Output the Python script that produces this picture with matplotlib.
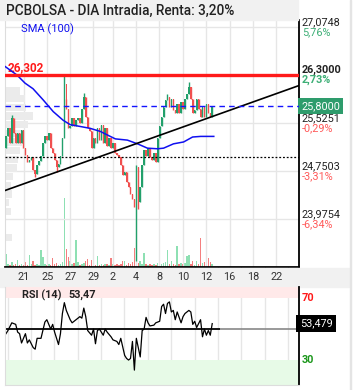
import numpy as np
import matplotlib.pyplot as plt
from matplotlib.patches import Rectangle

plt.rcParams['font.family'] = ['Roboto', 'DejaVu Sans']

title = 'PCBOLSA - DIA Intradia, Renta: 3,20%'

# intraday bars (closes); each bar opens at the previous close
first_open = 25.12
closes = [25.31, 25.44, 25.20, 25.60, 25.36, 25.20, 25.36, 25.20, 25.41, 25.12,
          25.01, 24.89, 24.93, 24.97, 24.77, 24.71, 24.84, 24.92, 25.00, 25.20,
          25.31, 25.25, 25.36, 25.12, 25.04, 24.93, 24.81, 24.87, 25.00, 25.28,
          26.16, 25.76, 25.44, 25.47, 25.60, 25.47, 25.57, 25.60, 25.52, 25.76,
          25.95, 25.63, 25.44, 25.39, 25.12, 25.28, 25.20, 25.44, 25.25, 25.49,
          25.20, 25.44, 25.16, 25.28, 25.12, 25.20, 25.04, 25.01, 24.97, 24.85,
          24.69, 24.74, 24.57, 24.49, 24.38, 24.30, 24.17, 24.81, 24.25, 24.49,
          24.84, 25.09, 25.00, 25.12, 24.97, 24.93, 25.04, 24.89, 25.28, 25.47,
          25.63, 25.79, 25.89, 25.95, 25.79, 25.92, 25.73, 25.68, 25.84, 25.68,
          25.87, 25.76, 25.92, 26.00, 26.11, 25.92, 25.68, 25.73, 25.92, 25.76,
          25.63, 25.79, 25.63, 25.84, 25.68, 25.63, 25.80]
wick_high = {3: 25.65, 30: 26.28, 31: 25.92, 40: 26.01, 67: 24.84, 83: 25.99, 94: 26.19}
wick_low = {15: 24.66, 26: 24.73, 67: 23.30, 68: 24.14}

volume = [13, 3, 2, 5, 2, 3, 7, 2, 3, 2, 5, 2, 12, 3, 6, 2, 3, 2, 17, 10,
          3, 2, 3, 2, 9, 3, 4, 2, 3, 5, 69, 18, 10, 6, 3, 4, 27, 5, 2, 3,
          4, 6, 8, 2, 7, 3, 2, 11, 2, 3, 2, 3, 3, 2, 9, 3, 2, 3, 2, 3,
          6, 6, 2, 4, 3, 5, 19, 8, 4, 6, 3, 14, 3, 2, 3, 2, 3, 2, 4, 10,
          3, 4, 5, 17, 3, 6, 3, 2, 21, 3, 4, 3, 4, 11, 12, 3, 6, 2, 6, 3,
          29, 4, 5, 3, 9, 5, 3]

# volume-at-price profile
profile_price = [26.04, 25.92, 25.78, 25.64, 25.50, 25.36, 25.22, 25.08,
                 24.94, 24.80, 24.66, 24.52, 24.38, 24.24, 24.10, 23.68]
profile_vol = [15, 20, 21, 28, 23, 18, 17, 15, 13, 12, 8, 6, 7, 4, 6, 7]

sma_idx = [-0.5, 5.7, 9.8, 13.9, 19.1, 24.3, 29.4, 33.0, 38.2, 43.3, 48.5, 53.6,
           56.2, 62.4, 67.6, 72.7, 77.9, 81.0, 86.1, 91.3, 95.9, 100.1, 106.8]
sma_val = [26.44, 26.30, 26.17, 26.08, 25.90, 25.71, 25.57, 25.50, 25.47, 25.44,
           25.39, 25.31, 25.27, 25.25, 25.19, 25.12, 25.11, 25.12, 25.19, 25.22,
           25.30, 25.31, 25.31]

rsi_idx = [0, 1, 3, 5, 6, 7, 8, 10, 11, 12, 14, 15, 16, 18, 20, 21, 23, 24, 25, 26,
           27, 28, 29, 30, 31, 33, 34, 36, 38, 39, 40, 41, 42, 44, 45, 46, 47, 48, 50,
           51, 52, 54, 55, 57, 58, 59, 61, 62, 63, 64, 65, 66, 67, 69, 70, 71, 72, 73,
           74, 76, 77, 79, 80, 81, 82, 83, 84, 85, 86, 87, 88, 90, 91, 92, 94, 95, 96,
           97, 98, 100, 101, 102, 103, 104, 105, 106]
rsi_val = [47, 49, 54, 53, 48, 47, 41, 47, 41, 43, 38, 37, 44, 44, 54.5, 56, 50, 53, 48, 44,
           40, 47, 60, 67, 62, 56, 54, 56, 58, 57, 63.5, 58, 49, 46, 50, 40.5, 49, 50, 46,
           50, 48, 45, 43, 42, 40, 44, 33, 31, 30, 31, 42, 23.5, 44, 32, 49, 50, 57.5, 54,
           52, 52.5, 54, 55, 64.5, 66, 60, 66.5, 67.5, 61, 62, 56, 61, 54, 58, 60, 62, 61, 53,
           55, 51, 56, 45, 50, 46, 49, 46, 53.5]
rsi_last = 53.479

trend_pts = [(15, 24.61), (106.8, 25.64)]
resistance = 26.302
last_price = 25.80
dotted_level = 24.98

price_ticks = [27.0748, 26.3000, 25.5251, 24.7503, 23.9754, 23.2006]
price_labels = ['27,0748', '26,3000', '25,5251', '24,7503', '23,9754']
pct_labels = ['5,76%', '2,73%', '-0,29%', '-3,31%', '-6,34%']

date_pos = [9.3, 21.2, 33.0, 44.9, 54.9, 66.9, 78.9, 90.9, 102.9, 114.9, 126.9, 138.9]
date_labels = ['21', '25', '27', '29', '2', '4', '8', '10', '12', '16', '18', '22']
grid_pos = np.arange(0.9, 150, 12)

GREEN, RED = '#22a06b', '#f0504f'
VGREEN, VRED = '#8ee0b3', '#f47f7f'

W, H = 353, 390
fig = plt.figure(figsize=(W / 100, H / 100), dpi=100)
fx = lambda px: px / W
fy = lambda py: 1 - py / H

# title bar and date band
fig.patches.append(Rectangle((0, fy(20)), fx(298), 20 / H, transform=fig.transFigure,
                             color='#f1f1f1', zorder=0))
fig.patches.append(Rectangle((0, fy(287)), fx(350), 19 / H, transform=fig.transFigure,
                             color='#f1f1f1', zorder=1))
fig.patches.append(Rectangle((fx(349.5), 0), 1 / W, 1, transform=fig.transFigure,
                             color='#e4e4e4', zorder=1))
fig.text(fx(6), fy(11), title, fontsize=9.8, fontweight='medium', color='#222222',
         va='center', ha='left')

ax = fig.add_axes([fx(5), fy(267), fx(294), 247 / H])
ax.set_zorder(0)
ax_v = ax.twinx()
ax_v.set_zorder(-1)
ax.patch.set_visible(False)

x = np.arange(len(closes))
c = np.array(closes)
o = np.array([first_open] + closes[:-1])
hi = np.array([wick_high.get(i, max(o[i], c[i])) for i in x])
lo = np.array([wick_low.get(i, min(o[i], c[i])) for i in x])
up = c >= o
cols = np.where(up, GREEN, RED)

ax.set_xlim(-0.5, 150.6)
ax.set_ylim(23.263, 27.19)

# volume profile on the left edge
ax.barh(profile_price, np.array(profile_vol) * 0.52, height=0.12, left=-0.5,
        color='#ebebeb', zorder=1)

ax.vlines(x, lo, hi, color=cols, lw=1, zorder=3)
ax.bar(x, np.maximum(np.abs(c - o), 0.012), bottom=np.minimum(o, c), width=0.75,
       color=cols, linewidth=0, zorder=3)

ax_v.bar(x, volume, width=0.75, color=np.where(up, VGREEN, VRED), linewidth=0)
ax_v.set_ylim(0, max(volume) * 3.58)
ax_v.axis('off')

ax.plot(sma_idx, sma_val, color='#1010f0', lw=1.1, zorder=4)
ax.axline(trend_pts[0], trend_pts[1], color='black', lw=1.2, zorder=4)
ax.axhline(resistance, color='#ff1a1a', lw=2.4, zorder=4)
ax.axhline(last_price, color='#1414ff', lw=1, ls=(0, (4, 3)), zorder=4)
ax.axhline(dotted_level, color='black', lw=0.9, ls=(0, (1.5, 1.5)), zorder=4)

ax.set_yticks(price_ticks)
ax.set_xticks(grid_pos)
ax.grid(color='#e6e6e6', lw=1)
ax.set_axisbelow(True)
ax.tick_params(length=0, labelleft=False, labelbottom=False)
ax.spines['top'].set_visible(False)
ax.spines['left'].set_color('#dddddd')
ax.spines['right'].set_color('black')
ax.spines['right'].set_linewidth(1.3)
ax.spines['bottom'].set_color('black')
ax.spines['bottom'].set_linewidth(1.3)

fig.text(fx(21), fy(29), 'SMA (100)', fontsize=8, color='#1010f0', va='center')
ax.annotate('26,302', xy=(0, resistance), xycoords=('axes fraction', 'data'),
            xytext=(2, 5), textcoords='offset points', color='#ff1a1a',
            fontsize=8.5, fontweight='bold', va='center', annotation_clip=False)

for i, (v, lab, pct) in enumerate(zip(price_ticks, price_labels, pct_labels)):
    bold = 'bold' if i == 1 else 'normal'
    ax.annotate(lab, xy=(1, v), xycoords=('axes fraction', 'data'), xytext=(2, 3.8),
                textcoords='offset points', fontsize=7.8, color='#222222',
                fontweight=bold, va='center', annotation_clip=False)
    ax.annotate(pct, xy=(1, v), xycoords=('axes fraction', 'data'), xytext=(2, -3.6),
                textcoords='offset points', fontsize=7.8,
                color='#3cae75' if pct[0] != '-' else '#ff5a5a',
                fontweight=bold, va='center', annotation_clip=False)
ax.annotate('25,8000', xy=(1, last_price), xycoords=('axes fraction', 'data'),
            xytext=(1.5, 0), textcoords='offset points', fontsize=7.8, color='white',
            va='center', annotation_clip=False,
            bbox=dict(boxstyle='square,pad=0.25', fc='#2e9c6c', ec='none'))

# RSI panel
ar = fig.add_axes([fx(5), fy(385), fx(294), 98 / H], sharex=ax)
ar.set_zorder(2)
ar.set_ylim(13.9, 77.1)
ar.axhspan(70, 100, color='#ffe9e9', lw=0)
ar.axhspan(0, 30, color='#e7fae7', lw=0)
ar.axhline(50, color='#888888', lw=1.2)
ar.hlines(50, -0.5, 110, color='black', lw=1.2)
ar.plot(rsi_idx, rsi_val, color='black', lw=0.9)
ar.set_xticks(grid_pos, minor=True)
ar.set_xticks(date_pos, date_labels)
ar.grid(which='minor', axis='x', color='#e6e6e6', lw=1)
ar.set_axisbelow(True)
ar.set_yticks([])
ar.xaxis.tick_top()
ar.tick_params(axis='x', which='both', length=0, pad=3.6, labelsize=7.8,
               labelcolor='#333333')
ar.spines['top'].set_visible(False)
ar.spines['left'].set_color('#dddddd')
ar.spines['bottom'].set_color('#dddddd')
ar.spines['right'].set_color('black')
ar.spines['right'].set_linewidth(1.3)

fig.text(fx(22), fy(295), 'RSI (14)', fontsize=7.8, fontweight='bold', color='#222222',
         va='center')
fig.text(fx(68), fy(295), '53,47', fontsize=7.8, fontweight='bold', color='#222222',
         va='center')
ar.annotate('70', xy=(1, 70), xycoords=('axes fraction', 'data'), xytext=(2, 0),
            textcoords='offset points', fontsize=7.8, fontweight='bold', color='#ff1a1a',
            va='center', annotation_clip=False)
ar.annotate('30', xy=(1, 30), xycoords=('axes fraction', 'data'), xytext=(2, 0),
            textcoords='offset points', fontsize=7.8, fontweight='bold', color='#1a961a',
            va='center', annotation_clip=False)
ar.annotate('53,479', xy=(1, rsi_last), xycoords=('axes fraction', 'data'),
            xytext=(0.5, 0), textcoords='offset points', fontsize=7.8, color='white',
            va='center', annotation_clip=False,
            bbox=dict(boxstyle='square,pad=0.3', fc='black', ec='none'))

fig.savefig('out.png', dpi=100)
